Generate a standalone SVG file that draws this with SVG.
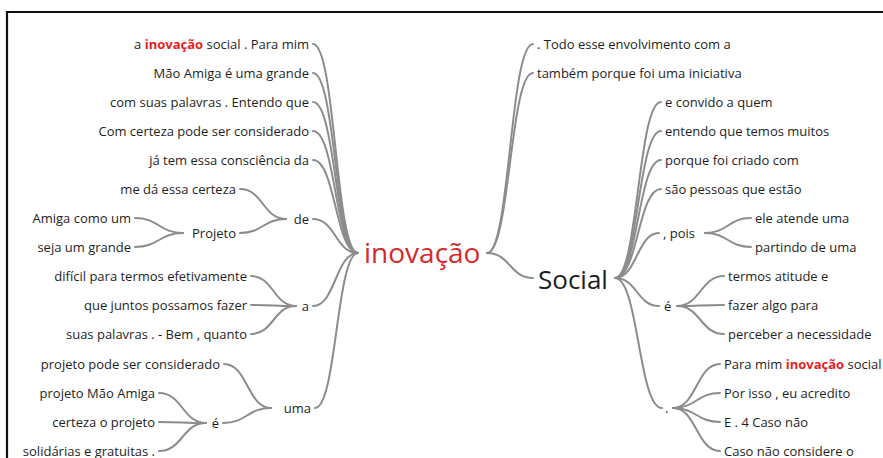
<svg xmlns="http://www.w3.org/2000/svg" width="883" height="458" viewBox="0 0 883 458">
<style>
.t{font-family:"Open Sans","Noto Sans",sans-serif;font-size:13px;fill:#1e1e1e}
.l{text-anchor:end}
.r{text-anchor:start}
.hl{fill:#e31e24;font-weight:bold}
.big{font-family:"Open Sans","Noto Sans",sans-serif;font-size:26px}
.lk{fill:none;stroke:#8c8c8c;stroke-width:2;stroke-linecap:round}
</style>
<rect width="883" height="458" fill="#fff"/>
<path d="M7,458 V12 H883" fill="none" stroke="#111" stroke-width="2.2"/>
<g id="connectors">
<path class="lk" d="M313,44 C335.5,44 335.5,253 358,253"/>
<path class="lk" d="M313,73 C335.5,73 335.5,253 358,253"/>
<path class="lk" d="M313,102 C335.5,102 335.5,253 358,253"/>
<path class="lk" d="M313,131 C335.5,131 335.5,253 358,253"/>
<path class="lk" d="M313,160 C335.5,160 335.5,253 358,253"/>
<path class="lk" d="M313,219 C335.5,219 335.5,253 358,253"/>
<path class="lk" d="M313,306 C335.5,306 335.5,253 358,253"/>
<path class="lk" d="M315,408 C336.5,408 336.5,253 358,253"/>
<path class="lk" d="M240,189 C263,189 263,219 286,219"/>
<path class="lk" d="M240,233 C263,233 263,219 286,219"/>
<path class="lk" d="M135,218 C159,218 159,233 183,233"/>
<path class="lk" d="M135,247 C159,247 159,233 183,233"/>
<path class="lk" d="M251,276 C273.5,276 273.5,306 296,306"/>
<path class="lk" d="M251,305 C273.5,305 273.5,306 296,306"/>
<path class="lk" d="M251,334 C273.5,334 273.5,306 296,306"/>
<path class="lk" d="M224,364 C247.5,364 247.5,408 271,408"/>
<path class="lk" d="M223,423 C247,423 247,408 271,408"/>
<path class="lk" d="M159,393 C182.5,393 182.5,423 206,423"/>
<path class="lk" d="M159,422 C182.5,422 182.5,423 206,423"/>
<path class="lk" d="M159,451 C182.5,451 182.5,423 206,423"/>
<path class="lk" d="M487,253 C510,253 510,44 533,44"/>
<path class="lk" d="M487,253 C510,253 510,73 533,73"/>
<path class="lk" d="M487,253 C510,253 510,278 533,278"/>
<path class="lk" d="M615,278 C638,278 638,102 661,102"/>
<path class="lk" d="M615,278 C638,278 638,131 661,131"/>
<path class="lk" d="M615,278 C638,278 638,160 661,160"/>
<path class="lk" d="M615,278 C638,278 638,189 661,189"/>
<path class="lk" d="M615,278 C637,278 637,233 659,233"/>
<path class="lk" d="M615,278 C637,278 637,306 659,306"/>
<path class="lk" d="M615,278 C638.5,278 638.5,408 662,408"/>
<path class="lk" d="M705,233 C728,233 728,218 751,218"/>
<path class="lk" d="M705,233 C728,233 728,247 751,247"/>
<path class="lk" d="M677,306 C700.5,306 700.5,276 724,276"/>
<path class="lk" d="M677,306 C700.5,306 700.5,305 724,305"/>
<path class="lk" d="M677,306 C700.5,306 700.5,334 724,334"/>
<path class="lk" d="M673,408 C696.5,408 696.5,364 720,364"/>
<path class="lk" d="M673,408 C696.5,408 696.5,393 720,393"/>
<path class="lk" d="M673,408 C696.5,408 696.5,422 720,422"/>
<path class="lk" d="M673,408 C696.5,408 696.5,451 720,451"/>
</g>
<g id="n-inovacao"><text class="big" x="364" y="263" fill="#d42a2e" style="font-size:28px">inovação</text></g>
<g id="n-social"><text class="big" x="538" y="289" fill="#1e1e1e">Social</text></g>
<g id="n-l1"><text class="t l" x="309" y="49">a <tspan class="hl">inovação</tspan> social . Para mim</text></g>
<g id="n-l2"><text class="t l" x="309" y="78">Mão Amiga é uma grande</text></g>
<g id="n-l3"><text class="t l" x="309" y="107">com suas palavras . Entendo que</text></g>
<g id="n-l4"><text class="t l" x="309" y="136">Com certeza pode ser considerado</text></g>
<g id="n-l5"><text class="t l" x="309" y="165">já tem essa consciência da</text></g>
<g id="n-de"><text class="t l" x="309" y="224">de</text></g>
<g id="n-meda"><text class="t l" x="236" y="194">me dá essa certeza</text></g>
<g id="n-projeto"><text class="t l" x="236" y="238">Projeto</text></g>
<g id="n-amiga"><text class="t l" x="131" y="223">Amiga como um</text></g>
<g id="n-seja"><text class="t l" x="131" y="252">seja um grande</text></g>
<g id="n-a"><text class="t l" x="309" y="311">a</text></g>
<g id="n-dificil"><text class="t l" x="247" y="281">difícil para termos efetivamente</text></g>
<g id="n-juntos"><text class="t l" x="247" y="310">que juntos possamos fazer</text></g>
<g id="n-suas"><text class="t l" x="247" y="339">suas palavras . - Bem , quanto</text></g>
<g id="n-uma"><text class="t l" x="311" y="413">uma</text></g>
<g id="n-projpode"><text class="t l" x="220" y="369">projeto pode ser considerado</text></g>
<g id="n-e-left"><text class="t l" x="219" y="428">é</text></g>
<g id="n-projmao"><text class="t l" x="155" y="398">projeto Mão Amiga</text></g>
<g id="n-certeza"><text class="t l" x="155" y="427">certeza o projeto</text></g>
<g id="n-solid"><text class="t l" x="155" y="456">solidárias e gratuitas .</text></g>
<g id="n-todo"><text class="t r" x="537" y="49">. Todo esse envolvimento com a</text></g>
<g id="n-tambem"><text class="t r" x="537" y="78">também porque foi uma iniciativa</text></g>
<g id="n-convido"><text class="t r" x="665" y="107">e convido a quem</text></g>
<g id="n-entendo"><text class="t r" x="665" y="136">entendo que temos muitos</text></g>
<g id="n-porque"><text class="t r" x="665" y="165">porque foi criado com</text></g>
<g id="n-sao"><text class="t r" x="665" y="194">são pessoas que estão</text></g>
<g id="n-pois"><text class="t r" x="663" y="238">, pois</text></g>
<g id="n-ele"><text class="t r" x="755" y="223">ele atende uma</text></g>
<g id="n-partindo"><text class="t r" x="755" y="252">partindo de uma</text></g>
<g id="n-e-right"><text class="t r" x="664" y="311">é</text></g>
<g id="n-termos"><text class="t r" x="728" y="281">termos atitude e</text></g>
<g id="n-fazer"><text class="t r" x="728" y="310">fazer algo para</text></g>
<g id="n-perceber"><text class="t r" x="728" y="339">perceber a necessidade</text></g>
<g id="n-dot"><text class="t r" x="665" y="413">.</text></g>
<g id="n-paramim"><text class="t r" x="724" y="369">Para mim <tspan class="hl">inovação</tspan> social</text></g>
<g id="n-porisso"><text class="t r" x="724" y="398">Por isso , eu acredito</text></g>
<g id="n-e4"><text class="t r" x="724" y="427">E . 4 Caso não</text></g>
<g id="n-caso"><text class="t r" x="724" y="456">Caso não considere o</text></g>
</svg>
